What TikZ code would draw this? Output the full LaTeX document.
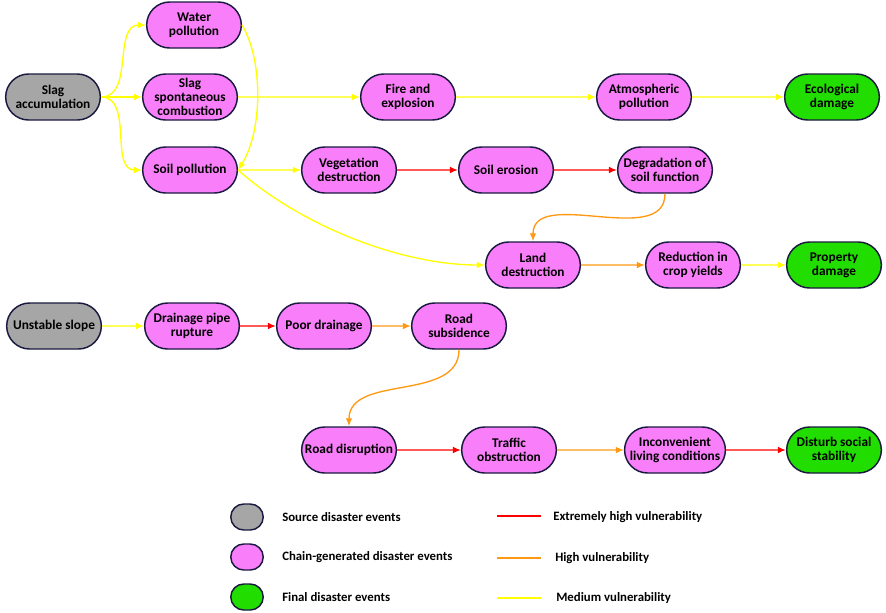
\documentclass[tikz,border=0pt]{standalone}
\usepackage{fontspec}
\setmainfont{Carlito}
\usetikzlibrary{arrows.meta,shapes.misc}

\definecolor{evtline}{RGB}{26,26,64}
\definecolor{srcfill}{RGB}{166,166,166}
\definecolor{chainfill}{RGB}{249,126,249}
\definecolor{finalfill}{RGB}{34,221,0}
\definecolor{vhigh}{RGB}{255,0,0}
\definecolor{vmid}{RGB}{255,153,20}
\definecolor{vlow}{RGB}{255,255,0}

\tikzset{
  evt/.style={rounded rectangle, draw=evtline, line width=1.1pt, minimum width=73pt, minimum height=34.5pt, inner sep=1pt, align=center, font=\bfseries\fontsize{10}{10.5}\selectfont},
  src/.style={evt, fill=srcfill},
  chain/.style={evt, fill=chainfill},
  final/.style={evt, fill=finalfill},
  link/.style={line width=1pt, -{Latex[length=6pt,width=5pt]}},
  xhigh/.style={link, color=vhigh},
  high/.style={link, color=vmid},
  medium/.style={link, color=vlow},
  keytext/.style={anchor=west, inner sep=0.75pt, font=\bfseries\fontsize{9.6}{11}\selectfont}
}

\begin{document}
\begin{tikzpicture}[x=0.75pt,y=0.75pt,yscale=-1,xscale=1]
\useasboundingbox (0,0) rectangle (886,612);

% Events: slag chain
\node [src] (slag) at (53,97) {Slag\\accumulation};
\node [chain] (water) at (194,25) {Water\\pollution};
\node [chain] (combust) at (190,97) {Slag\\spontaneous\\combustion};
\node [chain] (soilpol) at (190,170) {Soil pollution};
\node [chain] (fire) at (408,97) {Fire and\\explosion};
\node [chain] (atmos) at (644,97) {Atmospheric\\pollution};
\node [final] (eco) at (832,97) {Ecological\\damage};
\node [chain] (veg) at (349,170) {Vegetation\\destruction};
\node [chain] (erosion) at (506,170) {Soil erosion};
\node [chain] (degrad) at (665,170) {Degradation of\\soil function};
\node [chain] (land) at (533,265) {Land\\destruction};
\node [chain] (crop) at (693,265) {Reduction in\\crop yields};
\node [final] (property) at (834,265) {Property\\damage};

% Events: slope chain
\node [src] (slope) at (54,326) {Unstable slope};
\node [chain] (pipe) at (192,326) {Drainage pipe\\rupture};
\node [chain] (poor) at (324,326) {Poor drainage};
\node [chain] (subside) at (459,326) {Road\\subsidence};
\node [chain] (disrupt) at (349,450) {Road disruption};
\node [chain] (traffic) at (509,450) {Traffic\\obstruction};
\node [chain] (living) at (675,450) {Inconvenient\\living conditions};
\node [final] (social) at (834,450) {Disturb social\\stability};

% Links
\draw [medium] (slag.east) to[out=0,in=180] (water.west);
\draw [medium] (slag.east) -- (combust.west);
\draw [medium] (slag.east) to[out=0,in=180] (soilpol.west);
\draw [medium] (water.east) .. controls (263,60) and (263,130) .. (soilpol.east);
\draw [medium] (combust) -- (fire);
\draw [medium] (fire) -- (atmos);
\draw [medium] (atmos) -- (eco);
\draw [medium] (soilpol) -- (veg);
\draw [xhigh] (veg) -- (erosion);
\draw [xhigh] (erosion) -- (degrad);
\draw [high] (degrad.south) to[out=90,in=-90] (land.north);
\draw [medium] (soilpol.east) .. controls (300,225) and (400,265) .. (land.west);
\draw [high] (land) -- (crop);
\draw [medium] (crop) -- (property);

\draw [medium] (slope) -- (pipe);
\draw [xhigh] (pipe) -- (poor);
\draw [high] (poor) -- (subside);
\draw [high] (subside.south) to[out=90,in=-90] (disrupt.north);
\draw [xhigh] (disrupt) -- (traffic);
\draw [high] (traffic) -- (living);
\draw [xhigh] (living) -- (social);

% Legend
\node [rounded rectangle, draw=evtline, line width=1.1pt, fill=srcfill, minimum width=31pt, minimum height=19.5pt] (keysrc) at (247,517) {};
\node [rounded rectangle, draw=evtline, line width=1.1pt, fill=chainfill, minimum width=31pt, minimum height=19.5pt] (keychain) at (247,557) {};
\node [rounded rectangle, draw=evtline, line width=1.1pt, fill=finalfill, minimum width=31pt, minimum height=19.5pt] (keyfinal) at (247,597) {};
\node [keytext] (keysrctxt) at (281,517) {Source disaster events};
\node [keytext] (keychaintxt) at (281,557) {Chain-generated disaster events};
\node [keytext] (keyfinaltxt) at (281,597) {Final disaster events};

\coordinate (kxa) at (497,516);
\coordinate (kxb) at (541,516);
\coordinate (kha) at (497,558);
\coordinate (khb) at (541,558);
\coordinate (kma) at (497,598);
\coordinate (kmb) at (541,598);
\draw [color=vhigh, line width=1pt] (kxa) -- (kxb);
\draw [color=vmid, line width=1pt] (kha) -- (khb);
\draw [color=vlow, line width=1pt] (kma) -- (kmb);
\node [keytext] (kxtxt) at (552,517) {Extremely high vulnerability};
\node [keytext] (khtxt) at (554,558) {High vulnerability};
\node [keytext] (kmtxt) at (555,598) {Medium vulnerability};
\end{tikzpicture}
\end{document}
